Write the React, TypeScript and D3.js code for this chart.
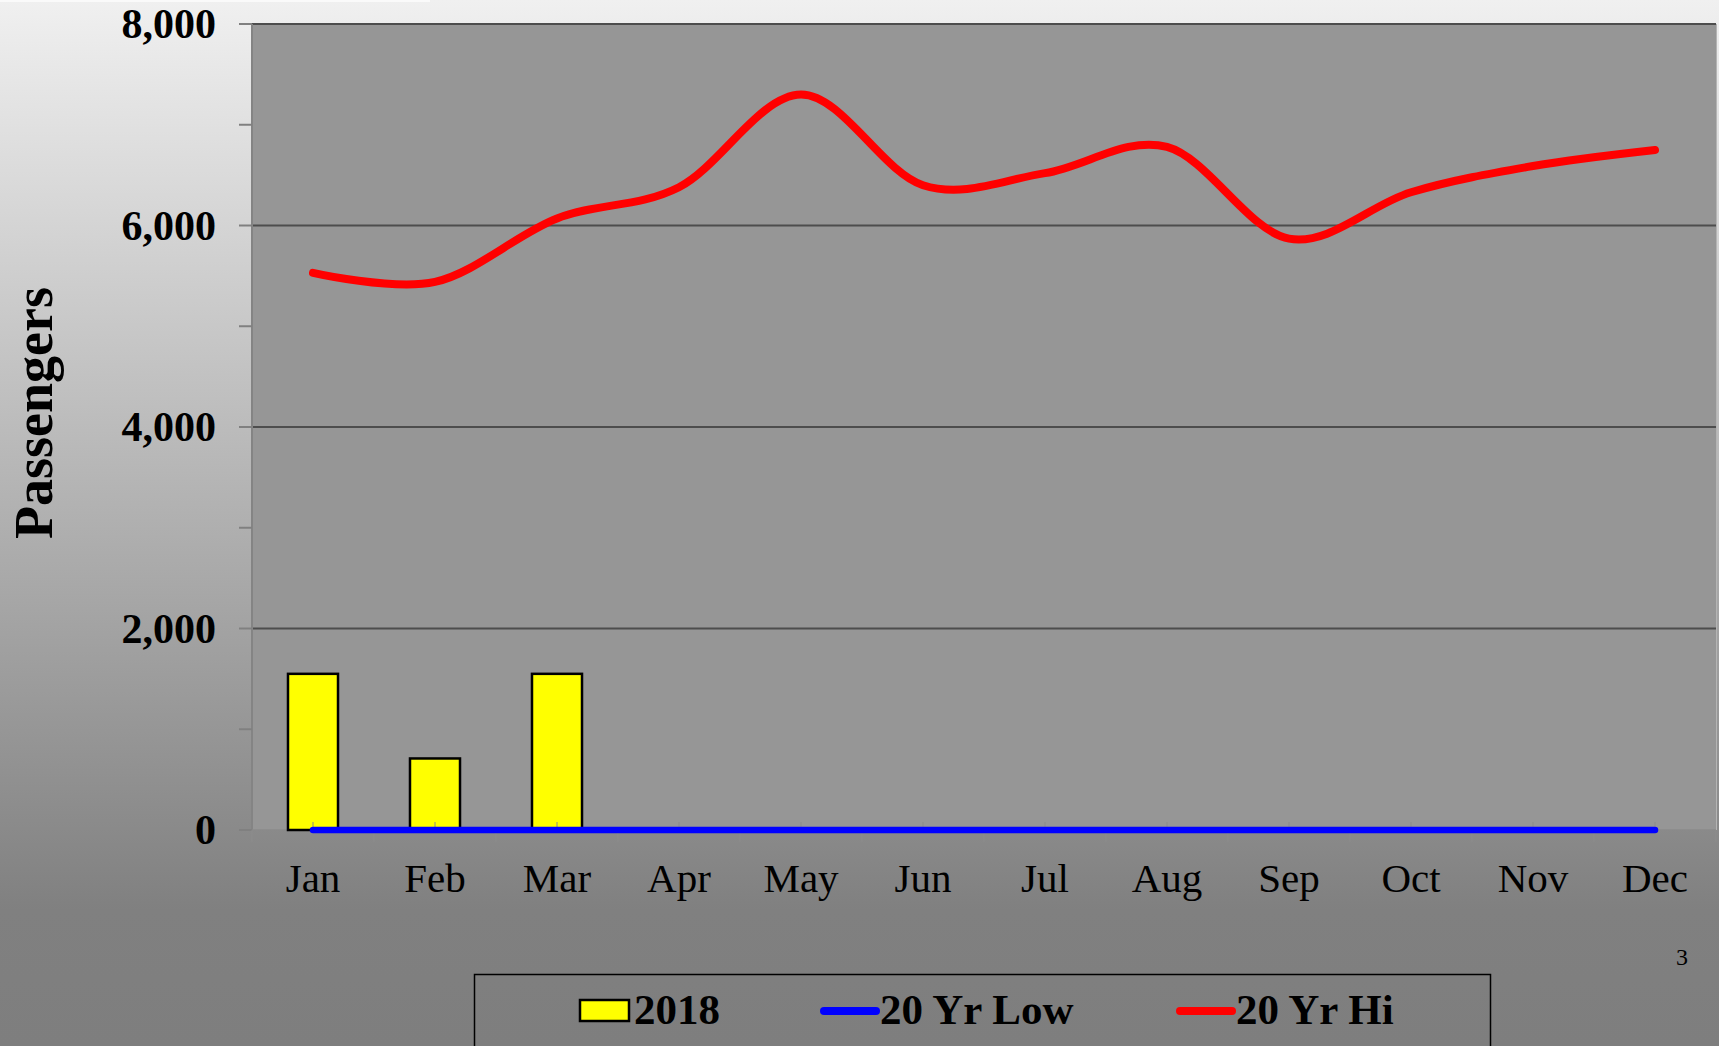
import React from "react";
import * as d3 from "d3";

const months = ["Jan", "Feb", "Mar", "Apr", "May", "Jun", "Jul", "Aug", "Sep", "Oct", "Nov", "Dec"];
const values2018: (number | null)[] = [1550, 710, 1550, null, null, null, null, null, null, null, null, null];
const low20: number[] = [0, 0, 0, 0, 0, 0, 0, 0, 0, 0, 0, 0];
const hi20: number[] = [5530, 5440, 6070, 6380, 7300, 6400, 6520, 6780, 5870, 6330, 6590, 6750];
const yTicks = [0, 2000, 4000, 6000, 8000];
const yMinorTicks = [1000, 3000, 5000, 7000];
const legendItems = ["2018", "20 Yr Low", "20 Yr Hi"];

const W = 1719;
const H = 1046;
const plot = { left: 252, right: 1716, top: 24, bottom: 830 };
const serif = "'Liberation Serif', 'Times New Roman', serif";

export default function App() {
  const x = d3.scaleBand<string>().domain(months).range([plot.left, plot.right]).padding(0);
  const y = d3.scaleLinear().domain([0, 8000]).range([plot.bottom, plot.top]);
  const cx = (m: string) => (x(m) as number) + x.bandwidth() / 2;
  const barW = x.bandwidth() * 0.41;

  const line = d3
    .line<number>()
    .x((_, i) => cx(months[i]))
    .y((d) => y(d))
    .curve(d3.curveCardinal.tension(0));

  const boundaries = months.map((m) => x(m) as number).concat([plot.right]);

  return (
    <svg
      width={W}
      height={H}
      style={{ position: "fixed", left: 0, top: 0, display: "block" }}
      xmlns="http://www.w3.org/2000/svg"
    >
      <defs>
        <linearGradient id="bg" x1="0" y1="0" x2="0" y2="1">
          <stop offset="0" stopColor="#f0f0f0" />
          <stop offset="0.87" stopColor="#808080" />
          <stop offset="1" stopColor="#7e7e7e" />
        </linearGradient>
      </defs>
      <rect x={0} y={0} width={W} height={H} fill="url(#bg)" />
      <rect x={0} y={0} width={430} height={2} fill="#fafafa" />

      {/* plot area */}
      <rect
        x={plot.left}
        y={plot.top}
        width={plot.right - plot.left}
        height={plot.bottom - plot.top}
        fill="#969696"
      />
      <line x1={plot.right + 0.5} x2={plot.right + 0.5} y1={plot.top} y2={plot.bottom} stroke="#b4b4b4" strokeWidth={1} />

      {/* gridlines */}
      {yTicks.filter((t) => t > 0).map((t) => (
        <line key={"g" + t} x1={plot.left} x2={plot.right} y1={y(t)} y2={y(t)} stroke="#4d4d4d" strokeWidth={2} />
      ))}

      {/* y axis */}
      <line x1={plot.left} x2={plot.left} y1={plot.top} y2={plot.bottom} stroke="#848484" strokeWidth={2} />
      {yTicks.concat(yMinorTicks).map((t) => (
        <line key={"t" + t} x1={plot.left - 13} x2={plot.left} y1={y(t)} y2={y(t)} stroke="#808080" strokeWidth={2} />
      ))}
      {yTicks.map((t) => (
        <text
          key={"l" + t}
          x={216}
          y={y(t) + 14}
          textAnchor="end"
          fontFamily={serif}
          fontWeight="bold"
          fontSize={42}
          fill="#000"
        >
          {d3.format(",")(t)}
        </text>
      ))}
      <text
        transform={`translate(52, 413) rotate(-90)`}
        textAnchor="middle"
        fontFamily={serif}
        fontWeight="bold"
        fontSize={54}
        fill="#000"
      >
        Passengers
      </text>

      {/* x axis */}
      <line x1={plot.left} x2={plot.right} y1={plot.bottom} y2={plot.bottom} stroke="#8a8a8a" strokeWidth={1.5} />
      {boundaries.map((b, i) => (
        <line key={"b" + i} x1={b} x2={b} y1={plot.bottom} y2={plot.bottom + 12} stroke="#8c8c8c" strokeWidth={1} />
      ))}

      {/* bars */}
      {values2018.map((v, i) =>
        v == null ? null : (
          <rect
            key={"bar" + i}
            x={cx(months[i]) - barW / 2}
            y={y(v)}
            width={barW}
            height={y(0) - y(v)}
            fill="#ffff00"
            stroke="#000"
            strokeWidth={2.5}
          />
        )
      )}

      {/* center ticks */}
      {months.map((m) => (
        <line key={"c" + m} x1={cx(m)} x2={cx(m)} y1={plot.bottom - 8} y2={plot.bottom} stroke="#8a8a8a" strokeWidth={1} />
      ))}

      {/* lines */}
      <path d={line(low20) || ""} fill="none" stroke="#0000ff" strokeWidth={6.5} strokeLinecap="round" />
      <path d={line(hi20) || ""} fill="none" stroke="#ff0000" strokeWidth={8} strokeLinecap="round" strokeLinejoin="round" />

      {months.map((m) => (
        <text key={"x" + m} x={cx(m)} y={892} textAnchor="middle" fontFamily={serif} fontSize={41} fill="#000">
          {m}
        </text>
      ))}

      <text x={1682} y={965} textAnchor="middle" fontFamily={serif} fontSize={24} fill="#000">
        3
      </text>

      {/* legend */}
      <rect x={474.5} y={974.5} width={1016} height={100} fill="none" stroke="#000" strokeWidth={1.5} />
      <rect x={580} y={1000} width={49} height={21} fill="#ffff00" stroke="#000" strokeWidth={2.5} />
      <text x={634} y={1024} fontFamily={serif} fontWeight="bold" fontSize={43} fill="#000">
        {legendItems[0]}
      </text>
      <line x1={824} x2={876} y1={1011} y2={1011} stroke="#0000ff" strokeWidth={8} strokeLinecap="round" />
      <text x={880} y={1024} fontFamily={serif} fontWeight="bold" fontSize={43} fill="#000">
        {legendItems[1]}
      </text>
      <line x1={1180} x2={1232} y1={1011} y2={1011} stroke="#ff0000" strokeWidth={8} strokeLinecap="round" />
      <text x={1236} y={1024} fontFamily={serif} fontWeight="bold" fontSize={43} fill="#000">
        {legendItems[2]}
      </text>
    </svg>
  );
}
